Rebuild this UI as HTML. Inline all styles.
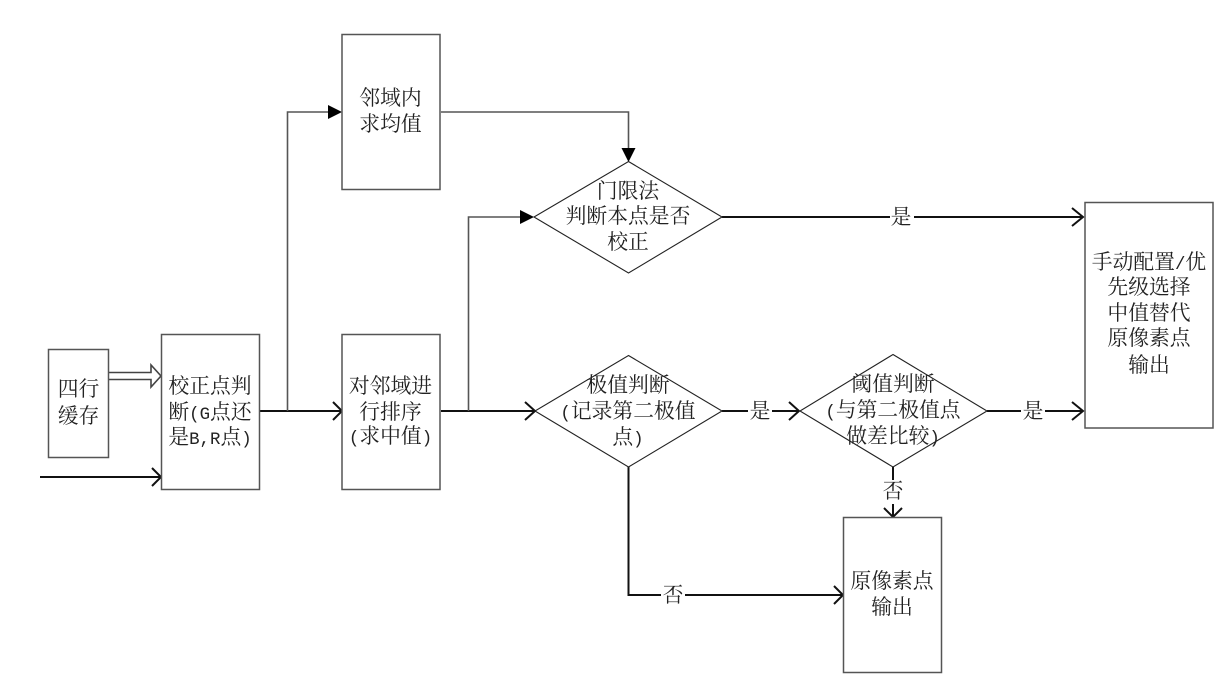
<!DOCTYPE html>
<html>
<head>
<meta charset="utf-8">
<style>
html,body{margin:0;padding:0;background:#fff;width:1231px;height:700px;overflow:hidden}
svg{display:block}
text{font-family:"Noto Serif CJK SC","Liberation Serif",serif;font-size:20.800px;fill:#222;text-anchor:middle}
tspan.l{font-family:"Liberation Mono",monospace;font-size:17.400px}
.b{fill:#fff;stroke:#555;stroke-width:1.5}
.d{fill:#fff;stroke:#222;stroke-width:1.1}
.c{fill:none;stroke:#111;stroke-width:2}
.g{fill:none;stroke:#555;stroke-width:1.6}
.o{fill:none;stroke:#111;stroke-width:2}
.lab{fill:#fff;stroke:none}
</style>
</head>
<body>
<svg width="1231" height="700" viewBox="0 0 1231 700" xmlns="http://www.w3.org/2000/svg">
<!-- connectors -->
<path class="c" d="M259.500 411H341"/>
<path class="g" d="M287.500 411V112H331"/>
<path class="g" d="M441 112H628.500V150"/>
<path class="c" d="M441 411H534"/>
<path class="g" d="M468.500 411V217H522"/>
<path class="c" d="M722 217H1082"/>
<path class="c" d="M722 411H799"/>
<path class="c" d="M987 411H1082"/>
<path class="c" d="M893 467V517"/>
<path class="c" d="M628.500 467V595H843"/>
<path class="c" d="M40 477H161"/>
<!-- open arrowheads -->
<path class="o" d="M333 402L342 411L333 420"/>
<path class="o" d="M525 402L535 411L525 420"/>
<path class="o" d="M789 402L799 411L789 420"/>
<path class="o" d="M1072 208L1083 217L1072 226"/>
<path class="o" d="M1072 402L1083 411L1072 420"/>
<path class="o" d="M884 508L893 517L902 508"/>
<path class="o" d="M834 586L843 595L834 604"/>
<path class="o" d="M152 468L161 477L152 486"/>
<!-- filled arrowheads -->
<path fill="#000" d="M328 105L342 112L328 119Z"/>
<path fill="#000" d="M520 210L534 217L520 224Z"/>
<path fill="#000" d="M621.500 148L628.500 162L635.500 148Z"/>
<!-- hollow arrow -->
<path fill="#fff" stroke="#444" stroke-width="1.6" d="M108 372.500H151V365L161 376L151 387V379.500H108Z"/>
<!-- boxes -->
<rect class="b" x="48.500" y="349.500" width="60" height="108"/>
<rect class="b" x="161.500" y="334.500" width="98" height="155"/>
<rect class="b" x="342" y="34.500" width="98" height="155"/>
<rect class="b" x="342" y="334.500" width="98" height="155"/>
<rect class="b" x="1085" y="202.500" width="128" height="225.500"/>
<rect class="b" x="843.500" y="517.500" width="98" height="155"/>
<!-- diamonds -->
<path class="d" d="M628.500 161.500L722 217L628.500 273L534 217Z"/>
<path class="d" d="M628.500 355.500L722 411L628.500 467L535 411Z"/>
<path class="d" d="M893 354.500L987 411L893 467L800 411Z"/>
<!-- label backings -->
<rect class="lab" x="890" y="205" width="24" height="24"/>
<rect class="lab" x="748" y="400" width="24" height="22"/>
<rect class="lab" x="1021" y="400" width="24" height="22"/>
<rect class="lab" x="881" y="480" width="24" height="24"/>
<rect class="lab" x="661" y="584" width="24" height="22"/>
<!-- labels -->
<text x="78.500" y="396">四行</text>
<text x="78.500" y="423">缓存</text>
<text x="210" y="393">校正点判</text>
<text x="210" y="419">断<tspan class="l">(G</tspan>点还</text>
<text x="210" y="444">是<tspan class="l">B,R</tspan>点<tspan class="l">)</tspan></text>
<text x="390.500" y="105">邻域内</text>
<text x="390.500" y="131">求均值</text>
<text x="390.500" y="393">对邻域进</text>
<text x="390.500" y="419">行排序</text>
<text x="390.500" y="443"><tspan class="l">(</tspan>求中值<tspan class="l">)</tspan></text>
<text x="628" y="198">门限法</text>
<text x="628" y="223">判断本点是否</text>
<text x="628" y="249">校正</text>
<text x="628" y="392">极值判断</text>
<text x="628" y="418"><tspan class="l">(</tspan>记录第二极值</text>
<text x="628" y="444">点<tspan class="l">)</tspan></text>
<text x="893" y="391">阈值判断</text>
<text x="893" y="417"><tspan class="l">(</tspan>与第二极值点</text>
<text x="893" y="443">做差比较<tspan class="l">)</tspan></text>
<text x="1149" y="269">手动配置<tspan class="l">/</tspan>优</text>
<text x="1149" y="294">先级选择</text>
<text x="1149" y="320">中值替代</text>
<text x="1149" y="345">原像素点</text>
<text x="1149" y="372">输出</text>
<text x="892" y="588">原像素点</text>
<text x="892" y="614">输出</text>
<text x="901" y="224">是</text>
<text x="760" y="418">是</text>
<text x="1033" y="418">是</text>
<text x="893" y="498">否</text>
<text x="673" y="602">否</text>
</svg>
</body>
</html>
